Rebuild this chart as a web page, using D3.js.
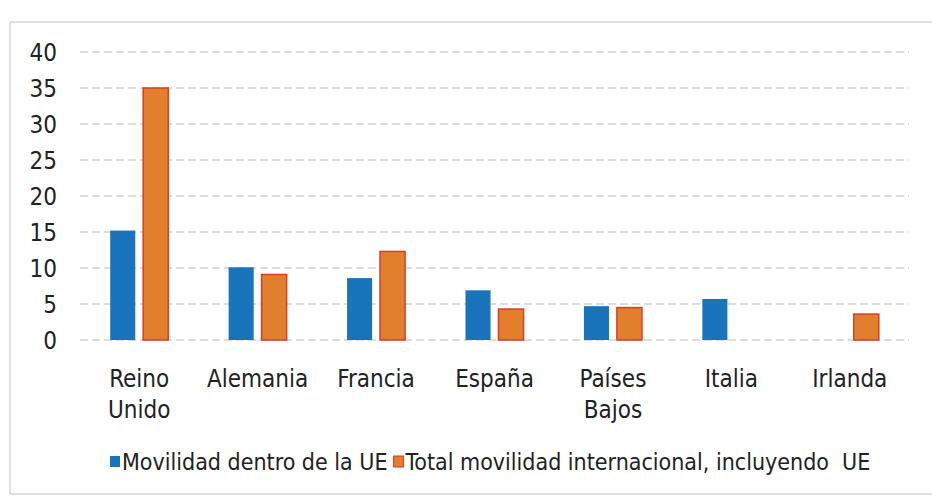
<!DOCTYPE html>
<html>
<head>
<meta charset="utf-8">
<script src="https://cdn.jsdelivr.net/npm/d3@7"></script>
<style>
  body { margin: 0; background: #fff; }
  text { font-family: "DejaVu Sans Condensed", "Liberation Sans Narrow", sans-serif; fill: #222; }
</style>
</head>
<body>
<svg id="chart" width="932" height="501"></svg>
<script>
// data
var paises = ["Reino Unido", "Alemania", "Francia", "España", "Países Bajos", "Italia", "Irlanda"];
var series = ["Movilidad dentro de la UE", "Total movilidad internacional, incluyendo  UE"];
var dentroUE = [15.2, 10.1, 8.6, 6.9, 4.7, 5.7, null];
var totalInt = [35, 9.1, 12.3, 4.3, 4.5, null, 3.6];
var yTicks = [0, 5, 10, 15, 20, 25, 30, 35, 40];

var colors = ["#1a74bc", "#e17f2c"];

var svg = d3.select("#chart");

// faint frame of the scanned chart
svg.append("rect")
  .attr("x", 10).attr("y", 22)
  .attr("width", 940).attr("height", 472)
  .attr("fill", "none")
  .attr("stroke", "#c4c4c4")
  .attr("stroke-width", 1);

var x0 = d3.scaleBand()
  .domain(paises)
  .range([80, 909])
  .paddingInner(0.51)
  .paddingOuter(0.255);

var x1 = d3.scaleBand()
  .domain([0, 1])
  .range([0, x0.bandwidth()])
  .paddingInner(0.24);

var y = d3.scaleLinear()
  .domain([0, 40])
  .range([340, 52]);

// gridlines
svg.append("g")
  .selectAll("line")
  .data(yTicks)
  .enter()
  .append("line")
  .attr("x1", 80)
  .attr("x2", 909)
  .attr("y1", function(d) { return y(d); })
  .attr("y2", function(d) { return y(d); })
  .attr("stroke", "#bdbdbd")
  .attr("stroke-dasharray", "8,4")
  .attr("stroke-width", 1);

// y axis labels
var yAxis = d3.axisLeft(y).tickValues(yTicks).tickSize(0).tickPadding(0);
var ga = svg.append("g")
  .attr("transform", "translate(57,0)")
  .call(yAxis);
ga.select(".domain").remove();
ga.selectAll("text")
  .style("font-size", "24px")
  .attr("fill", "#222")
  .attr("dy", "0.36em");

// bars
var rows = paises.map(function(p, i) { return {pais: p, vals: [dentroUE[i], totalInt[i]]}; });

var grupos = svg.selectAll(".grupo")
  .data(rows)
  .enter()
  .append("g")
  .attr("class", "grupo")
  .attr("transform", function(d) { return "translate(" + x0(d.pais) + ",0)"; });

grupos.selectAll("rect")
  .data(function(d) {
    return d.vals.map(function(v, k) { return {k: k, v: v}; }).filter(function(e) { return e.v != null; });
  })
  .enter()
  .append("rect")
  .attr("x", function(d) { return x1(d.k); })
  .attr("y", function(d) { return y(d.v); })
  .attr("width", x1.bandwidth())
  .attr("height", function(d) { return y(0) - y(d.v); })
  .attr("fill", function(d) { return colors[d.k]; })
  .attr("stroke", function(d) { return d.k == 1 ? "#dc3b26" : "none"; })
  .attr("stroke-width", 1.5);

// category labels, two lines where needed
var etiquetas = svg.selectAll(".cat")
  .data(paises)
  .enter()
  .append("text")
  .attr("class", "cat")
  .attr("text-anchor", "middle")
  .style("font-size", "24px")
  .attr("x", function(d) { return x0(d) + x0.bandwidth() / 2; })
  .attr("y", y(0) + 47);

etiquetas.each(function(d) {
  var t = d3.select(this);
  var partes = (d == "Reino Unido" || d == "Países Bajos") ? d.split(" ") : [d];
  partes.forEach(function(w, i) {
    t.append("tspan")
      .attr("x", x0(d) + x0.bandwidth() / 2)
      .attr("dy", i == 0 ? 0 : 31)
      .text(w);
  });
});

// legend: each entry placed after the previous text
var lx = 110;
series.forEach(function(s, i) {
  svg.append("rect")
    .attr("x", lx)
    .attr("y", 456)
    .attr("width", 10)
    .attr("height", 11)
    .attr("fill", colors[i])
    .attr("stroke", i == 1 ? "#dc3b26" : "none")
    .attr("stroke-width", 1);
  var t = svg.append("text")
    .attr("x", lx + 12)
    .attr("y", 470)
    .style("font-size", "23px")
    .style("white-space", "pre")
    .text(s);
  lx = lx + 12 + t.node().getComputedTextLength() + 6;
});
</script>
</body>
</html>
